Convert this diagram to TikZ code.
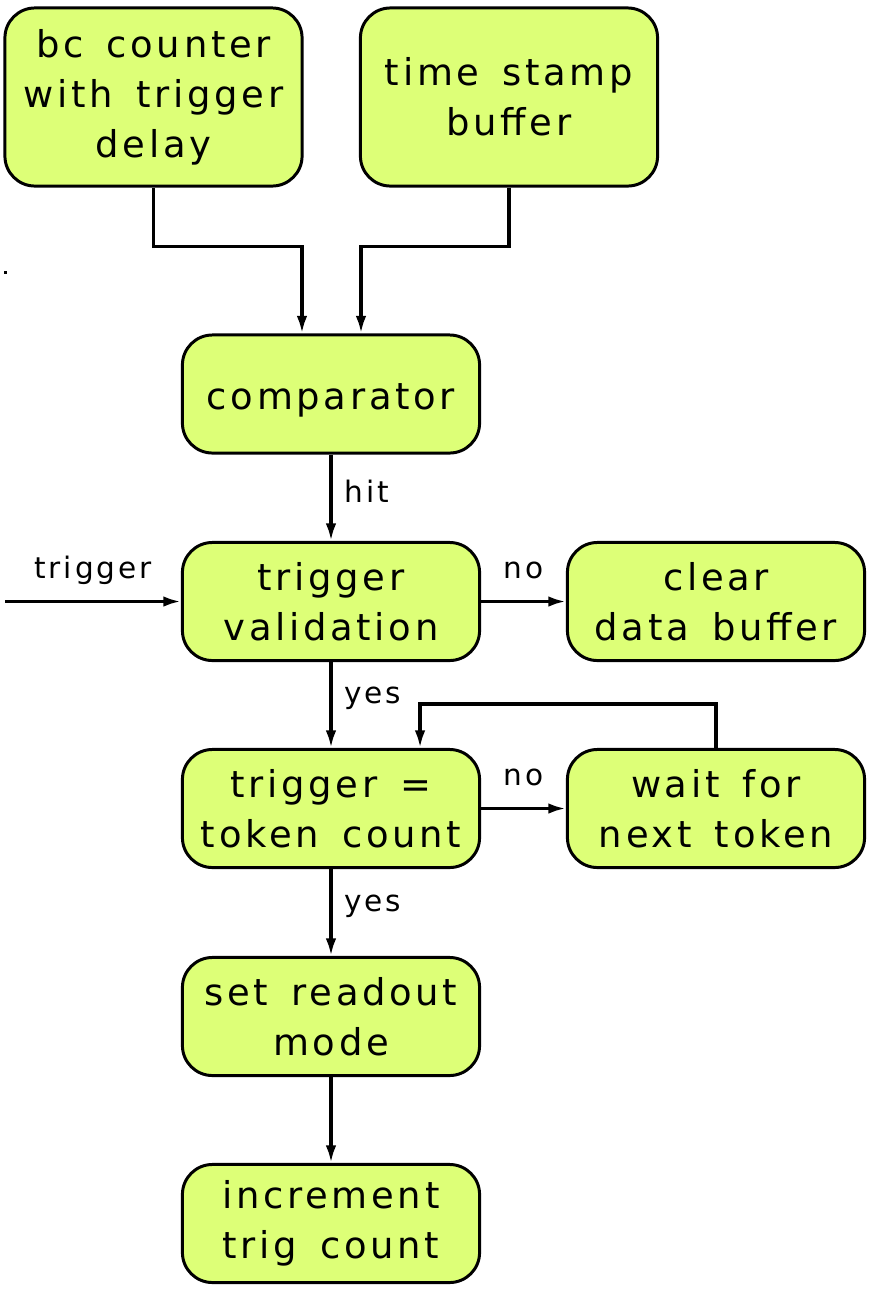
\documentclass[tikz,border=0pt]{standalone}
\usepackage{fontspec}
\setmainfont{DejaVu Sans}[LetterSpace=10,WordSpace=1.5]
\usetikzlibrary{arrows.meta}
\definecolor{boxfill}{RGB}{221,255,119}

\begin{document}
\begin{tikzpicture}[x=0.01cm,y=-0.01cm,
	block/.style={draw, line width=0.85pt, fill=boxfill, rounded corners=0.3cm,
		minimum width=2.97cm, minimum height=1.18cm, inner sep=0pt,
		align=center, font=\fontsize{10.5}{14.2}\selectfont},
	tall/.style={minimum height=1.78cm},
	arr/.style={-{Latex[length=5pt,width=3pt]}, line width=0.95pt},
	lab/.style={font=\fontsize{8.4}{10}\selectfont}]
	\useasboundingbox (0,0) rectangle (870,1290);
	% sources
	\node[block,tall] (bc) at (153.5,97) {bc counter\\with trigger\\delay};
	\node[block,tall] (ts) at (509,97) {time stamp\\buffer};
	% main chain
	\node[block] (comp) at (331,394) {\raisebox{-0.06cm}[\height][\depth]{comparator}};
	\node[block] (val) at (331,601.5) {trigger\\validation};
	\node[block] (clr) at (716,601.5) {clear\\data buffer};
	\node[block] (eq) at (331,808.5) {trigger =\\token count};
	\node[block] (wait) at (716,808.5) {wait for\\next token};
	\node[block] (ro) at (331,1016.5) {set readout\\mode};
	\node[block] (inc) at (331,1223.5) {increment\\trig count};
	\coordinate (trigin) at (5,601.5);
	\fill (4,271) rectangle (7,274);

	\draw[arr] (bc.south) -- ++(0,59) -| ([xshift=-0.29cm]comp.north);
	\draw[arr] (ts.south) -- ++(0,59) -| ([xshift=0.3cm]comp.north);
	\draw[arr] (comp) -- (val) node[midway, right, lab, yshift=0.06cm] {hit};
	\draw[arr] (trigin) -- (val) node[midway, lab, yshift=0.31cm] {trigger};
	\draw[arr] (val) -- (clr) node[midway, lab, yshift=0.31cm] {no};
	\draw[arr] (val) -- (eq) node[midway, right, lab, yshift=0.07cm] {yes};
	\draw[arr] (eq) -- (wait) node[midway, lab, yshift=0.31cm] {no};
	\draw[arr] (wait.north) -- ++(0,-44) -| ([xshift=0.89cm]eq.north);
	\draw[arr] (eq) -- (ro) node[midway, right, lab, yshift=0.06cm] {yes};
	\draw[arr] (ro) -- (inc);
\end{tikzpicture}
\end{document}
